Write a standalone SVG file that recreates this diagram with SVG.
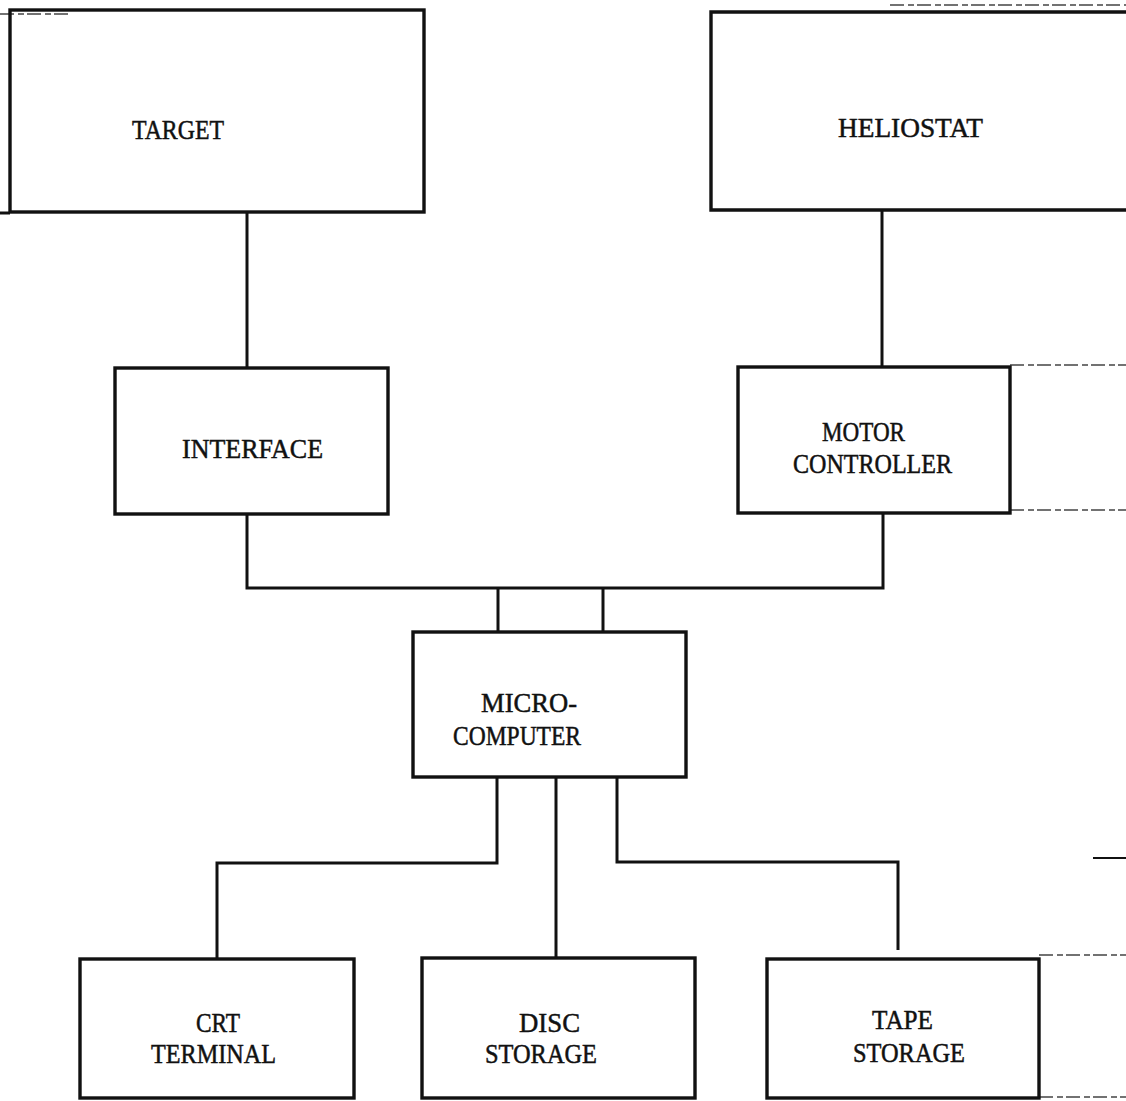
<svg xmlns="http://www.w3.org/2000/svg" width="1126" height="1101" viewBox="0 0 1126 1101">
  <style>
    .box { fill: none; stroke: #111; stroke-width: 3.4; }
    .wire { fill: none; stroke: #111; stroke-width: 3; }
    .edge { fill: none; stroke: #444; stroke-width: 1.6; stroke-dasharray: 14 4 6 3; }
    .lbl { font-family: "Liberation Serif", "DejaVu Serif", serif; font-size: 28px; fill: #111; stroke: #111; stroke-width: 0.5; }
  </style>
  <rect width="1126" height="1101" fill="#fff"/>

  <!-- neighbouring page edges -->
  <g id="page-edges">
    <path class="edge" d="M0,14 H70"/>
    <path class="wire" d="M0,213 H10"/>
    <path class="edge" d="M890,5 H1126"/>
    <path class="edge" d="M1010,365 H1126"/>
    <path class="edge" d="M1010,510 H1126"/>
    <path class="wire" d="M1093,858 H1126" style="stroke-width:2"/>
    <path class="edge" d="M1039,955 H1126"/>
    <path class="edge" d="M1039,1097 H1126"/>
  </g>

  <g id="connectors">
    <path class="wire" d="M247,212 V368"/>
    <path class="wire" d="M882,210 V367"/>
    <path class="wire" d="M247,514 V588 H883 V513"/>
    <path class="wire" d="M498,588 V632"/>
    <path class="wire" d="M603,588 V632"/>
    <path class="wire" d="M497,777 V863 H217 V959"/>
    <path class="wire" d="M556,777 V958"/>
    <path class="wire" d="M617,777 V862 H898 V950"/>
  </g>

  <g id="target">
    <rect class="box" x="10" y="10" width="414" height="202"/>
    <text class="lbl" x="132" y="139" textLength="92" lengthAdjust="spacingAndGlyphs">TARGET</text>
  </g>

  <g id="heliostat">
    <path class="box" d="M1126,12 H711 V210 H1126"/>
    <text class="lbl" x="838" y="137" textLength="145" lengthAdjust="spacingAndGlyphs">HELIOSTAT</text>
  </g>

  <g id="interface">
    <rect class="box" x="115" y="368" width="273" height="146"/>
    <text class="lbl" x="182" y="458" textLength="141" lengthAdjust="spacingAndGlyphs">INTERFACE</text>
  </g>

  <g id="motor-controller">
    <rect class="box" x="738" y="367" width="272" height="146"/>
    <text class="lbl" x="822" y="441" textLength="83" lengthAdjust="spacingAndGlyphs">MOTOR</text>
    <text class="lbl" x="793" y="473" textLength="159" lengthAdjust="spacingAndGlyphs">CONTROLLER</text>
  </g>

  <g id="microcomputer">
    <rect class="box" x="413" y="632" width="273" height="145"/>
    <text class="lbl" x="481" y="712" textLength="96" lengthAdjust="spacingAndGlyphs">MICRO-</text>
    <text class="lbl" x="453" y="745" textLength="128" lengthAdjust="spacingAndGlyphs">COMPUTER</text>
  </g>

  <g id="crt-terminal">
    <rect class="box" x="80" y="959" width="274" height="139"/>
    <text class="lbl" x="196" y="1032" textLength="44" lengthAdjust="spacingAndGlyphs">CRT</text>
    <text class="lbl" x="151" y="1063" textLength="125" lengthAdjust="spacingAndGlyphs">TERMINAL</text>
  </g>

  <g id="disc-storage">
    <rect class="box" x="422" y="958" width="273" height="140"/>
    <text class="lbl" x="519" y="1032" textLength="61" lengthAdjust="spacingAndGlyphs">DISC</text>
    <text class="lbl" x="485" y="1063" textLength="112" lengthAdjust="spacingAndGlyphs">STORAGE</text>
  </g>

  <g id="tape-storage">
    <rect class="box" x="767" y="959" width="272" height="139"/>
    <text class="lbl" x="872" y="1029" textLength="61" lengthAdjust="spacingAndGlyphs">TAPE</text>
    <text class="lbl" x="853" y="1062" textLength="112" lengthAdjust="spacingAndGlyphs">STORAGE</text>
  </g>
</svg>
